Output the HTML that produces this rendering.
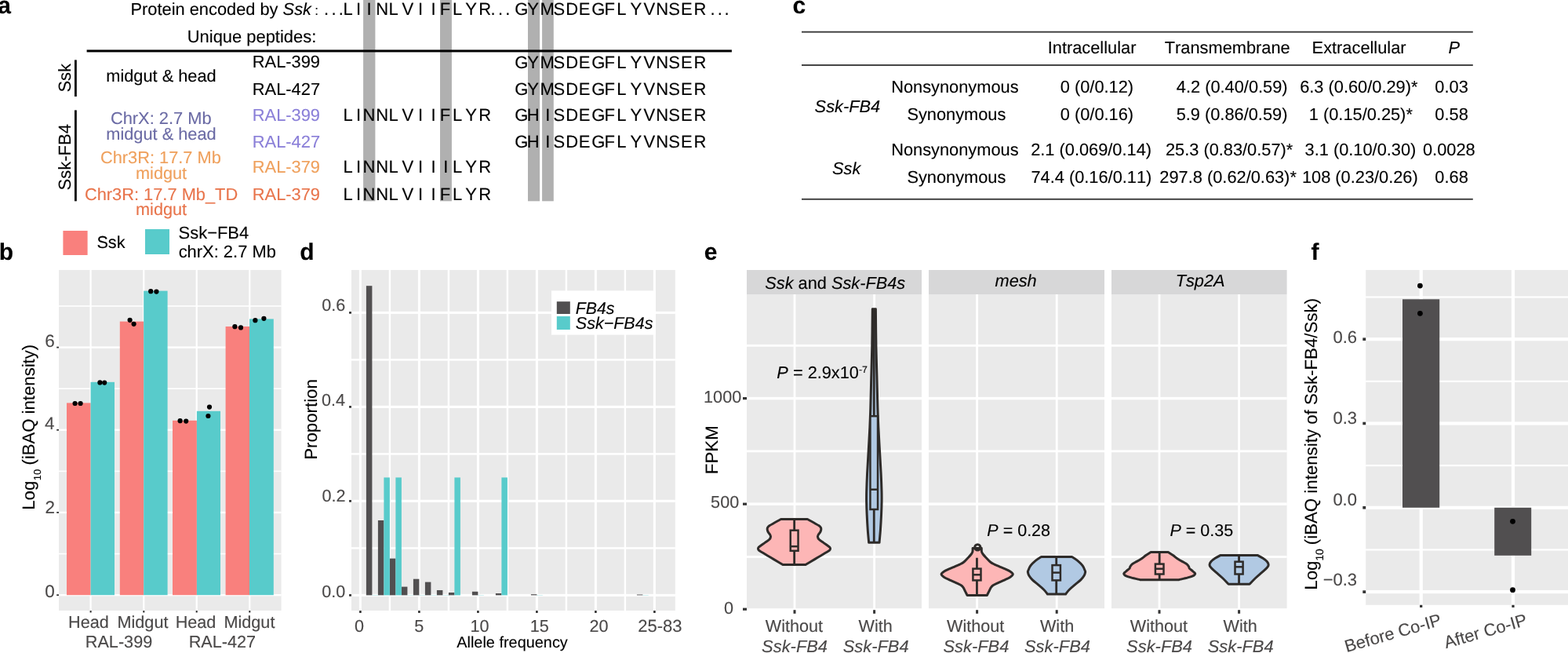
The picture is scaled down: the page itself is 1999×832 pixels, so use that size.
<!DOCTYPE html>
<html lang="en"><head><meta charset="utf-8"><title>Figure</title>
<style>
html,body{margin:0;padding:0;background:#fff;}
body{width:1999px;height:832px;overflow:hidden;}
svg{display:block;}
text{font-family:"Liberation Sans",Arial,Helvetica,sans-serif;font-kerning:none;text-rendering:geometricPrecision;white-space:pre;stroke-width:.12px;stroke-linejoin:round;}
</style></head><body>
<svg width="1999" height="832" viewBox="0 0 1999 832" role="img" aria-label="Figure panels a to f">
<rect x="0" y="0" width="1999" height="832" fill="#fff"/>
<rect x="463.1" y="0" width="15.3" height="256.3" fill="#B0B0B0"/>
<rect x="561" y="0" width="14.9" height="256.3" fill="#B0B0B0"/>
<rect x="673" y="0" width="15.1" height="256.3" fill="#B0B0B0"/>
<rect x="691.1" y="0" width="14.7" height="256.3" fill="#B0B0B0"/>
<text x="-2.78" y="16.8" font-size="30" fill="#000" stroke="#000" font-weight="bold">a</text>
<text x="166.56" y="19.3" font-size="21.82" fill="#000" stroke="#000"><tspan>Protein encoded by </tspan><tspan font-style="italic">Ssk</tspan></text>
<text x="401.35" y="19.3" font-size="17" fill="#000" stroke="#000">:</text>
<text x="412.99 422.39 431.74" y="19.3" font-size="22" fill="#000" stroke="#000">...</text>
<text x="625.49 634.89 644.29" y="19.3" font-size="22" fill="#000" stroke="#000">...</text>
<text x="905.39 914.69 923.59" y="19.3" font-size="22" fill="#000" stroke="#000">...</text>
<text x="437.6 453.97 467.57 479.2 495.45 512.4 532.97 549.47 560.7 576.95 593.27 610.2" y="19.3" font-size="22" fill="#000" stroke="#000">LIINLVIIFLYR</text>
<text x="656.19 672.22 688.5 705.5 721.3 737.8 754.29 770.4 786.2 803.52 820.4 836.2 852.3 868 884.6" y="19.3" font-size="22" fill="#000" stroke="#000">GYMSDEGFLYVNSER</text>
<text x="238.81" y="53.75" font-size="21.91" fill="#000" stroke="#000">Unique peptides:</text>
<rect x="110.6" y="63.45" width="822.3" height="3" fill="#000"/>
<text transform="translate(90 116.6) rotate(-90)" x="-1" y="0" font-size="22" fill="#000" stroke="#000">Ssk</text>
<rect x="95" y="76.4" width="2.8" height="46.6" fill="#000"/>
<text x="135.25" y="103.9" font-size="21.77" fill="#000" stroke="#000">midgut &amp; head</text>
<text x="321.81" y="86.3" font-size="21.85" fill="#000" stroke="#000">RAL-399</text>
<text x="321.81" y="121" font-size="21.86" fill="#000" stroke="#000">RAL-427</text>
<text x="656.19 672.22 688.5 705.5 721.3 737.8 754.29 770.4 786.2 803.52 820.4 836.2 852.3 868 884.6" y="86.7" font-size="22" fill="#000" stroke="#000">GYMSDEGFLYVNSER</text>
<text x="656.19 672.22 688.5 705.5 721.3 737.8 754.29 770.4 786.2 803.52 820.4 836.2 852.3 868 884.6" y="121" font-size="22" fill="#000" stroke="#000">GYMSDEGFLYVNSER</text>
<text transform="translate(90 241.4) rotate(-90)" x="-1" y="0" font-size="22" fill="#000" stroke="#000">Ssk-FB4</text>
<rect x="95" y="140.4" width="2.8" height="115.9" fill="#000"/>
<text x="140.89" y="158" font-size="21.86" fill="#6B6BA5" stroke="#6B6BA5">ChrX: 2.7 Mb</text>
<text x="135.25" y="177.5" font-size="21.77" fill="#6B6BA5" stroke="#6B6BA5">midgut &amp; head</text>
<text x="321.81" y="153.7" font-size="21.85" fill="#8A7FD8" stroke="#8A7FD8">RAL-399</text>
<text x="321.81" y="187.7" font-size="21.86" fill="#8A7FD8" stroke="#8A7FD8">RAL-427</text>
<text x="127.89" y="207.7" font-size="21.82" fill="#EFA05C" stroke="#EFA05C">Chr3R: 17.7 Mb</text>
<text x="173.06" y="227.8" font-size="21.69" fill="#EFA05C" stroke="#EFA05C">midgut</text>
<text x="321.81" y="219.8" font-size="21.85" fill="#EFA05C" stroke="#EFA05C">RAL-379</text>
<text x="107.89" y="254.6" font-size="21.84" fill="#E8744B" stroke="#E8744B">Chr3R: 17.7 Mb_TD</text>
<text x="173.06" y="274.3" font-size="21.69" fill="#E8744B" stroke="#E8744B">midgut</text>
<text x="321.81" y="254.6" font-size="21.85" fill="#E8744B" stroke="#E8744B">RAL-379</text>
<text x="437.6 453.97 462.4 479.2 495.45 512.4 532.97 549.47 560.7 576.95 593.27 610.2" y="153.7" font-size="22" fill="#000" stroke="#000">LINNLVIIFLYR</text>
<text x="437.6 453.97 462.4 479.2 495.45 512.4 532.97 549.47 565.27 576.95 593.27 610.2" y="219.8" font-size="22" fill="#000" stroke="#000">LINNLVIIILYR</text>
<text x="437.6 453.97 462.4 479.2 495.45 512.4 532.97 549.47 560.7 576.95 593.27 610.2" y="254.6" font-size="22" fill="#000" stroke="#000">LINNLVIIFLYR</text>
<text x="656.19 671.8 695.27 705.5 721.3 737.8 754.29 770.4 786.2 803.52 820.4 836.2 852.3 868 884.6" y="153.7" font-size="22" fill="#000" stroke="#000">GHISDEGFLYVNSER</text>
<text x="656.19 671.8 695.27 705.5 721.3 737.8 754.29 770.4 786.2 803.52 820.4 836.2 852.3 868 884.6" y="187.7" font-size="22" fill="#000" stroke="#000">GHISDEGFLYVNSER</text>
<text x="1010.43" y="16.6" font-size="30" fill="#000" stroke="#000" font-weight="bold">c</text>
<rect x="1022" y="39.75" width="855.8" height="1.9" fill="#3C3C3C"/>
<rect x="1022" y="82.05" width="855.8" height="1.9" fill="#3C3C3C"/>
<rect x="1022" y="252.85" width="855.8" height="1.9" fill="#3C3C3C"/>
<text x="1335.73" y="67.9" font-size="21.8" fill="#000" stroke="#000">Intracellular</text>
<text x="1484.78" y="67.9" font-size="21.8" fill="#000" stroke="#000">Transmembrane</text>
<text x="1672.62" y="67.9" font-size="21.8" fill="#000" stroke="#000">Extracellular</text>
<text x="1846.46" y="67.9" font-size="21.8" fill="#000" stroke="#000" font-style="italic">P</text>
<text x="1136.21" y="118" font-size="21.8" fill="#000" stroke="#000">Nonsynonymous</text>
<text x="1351.8" y="118" font-size="21.8" fill="#000" stroke="#000">0 (0/0.12)</text>
<text x="1499.83" y="118" font-size="21.8" fill="#000" stroke="#000">4.2 (0.40/0.59)</text>
<text x="1657.18" y="118" font-size="21.8" fill="#000" stroke="#000">6.3 (0.60/0.29)*</text>
<text x="1829.34" y="118" font-size="21.8" fill="#000" stroke="#000">0.03</text>
<text x="1156.39" y="152.5" font-size="21.8" fill="#000" stroke="#000">Synonymous</text>
<text x="1351.8" y="152.5" font-size="21.8" fill="#000" stroke="#000">0 (0/0.16)</text>
<text x="1499.64" y="152.5" font-size="21.8" fill="#000" stroke="#000">5.9 (0.86/0.59)</text>
<text x="1668.79" y="152.5" font-size="21.8" fill="#000" stroke="#000">1 (0.15/0.25)*</text>
<text x="1829.33" y="152.5" font-size="21.8" fill="#000" stroke="#000">0.58</text>
<text x="1136.21" y="197.6" font-size="21.8" fill="#000" stroke="#000">Nonsynonymous</text>
<text x="1314.17" y="197.6" font-size="21.8" fill="#000" stroke="#000">2.1 (0.069/0.14)</text>
<text x="1485.92" y="197.6" font-size="21.8" fill="#000" stroke="#000">25.3 (0.83/0.57)*</text>
<text x="1663.56" y="197.6" font-size="21.8" fill="#000" stroke="#000">3.1 (0.10/0.30)</text>
<text x="1814.01" y="197.6" font-size="21.8" fill="#000" stroke="#000">0.0028</text>
<text x="1156.39" y="233.1" font-size="21.8" fill="#000" stroke="#000">Synonymous</text>
<text x="1314.46" y="233.1" font-size="21.8" fill="#000" stroke="#000">74.4 (0.16/0.11)</text>
<text x="1478.36" y="233.1" font-size="21.8" fill="#000" stroke="#000">297.8 (0.62/0.63)*</text>
<text x="1659.91" y="233.1" font-size="21.8" fill="#000" stroke="#000">108 (0.23/0.26)</text>
<text x="1829.33" y="233.1" font-size="21.8" fill="#000" stroke="#000">0.68</text>
<text x="1038.61" y="142.6" font-size="21.8" fill="#000" stroke="#000" font-style="italic">Ssk-FB4</text>
<text x="1061.06" y="222.2" font-size="21.8" fill="#000" stroke="#000" font-style="italic">Ssk</text>
<rect x="75" y="344" width="283.6" height="434" fill="#EAEAEA"/>
<rect x="75" y="704.8" width="283.6" height="1.6" fill="#fff"/>
<rect x="75" y="599.6" width="283.6" height="1.6" fill="#fff"/>
<rect x="75" y="494.4" width="283.6" height="1.6" fill="#fff"/>
<rect x="75" y="389.2" width="283.6" height="1.6" fill="#fff"/>
<rect x="75" y="757" width="283.6" height="2.4" fill="#fff"/>
<rect x="75" y="651.8" width="283.6" height="2.4" fill="#fff"/>
<rect x="75" y="546.6" width="283.6" height="2.4" fill="#fff"/>
<rect x="75" y="441.4" width="283.6" height="2.4" fill="#fff"/>
<rect x="114.5" y="344" width="2.2" height="434" fill="#fff"/>
<rect x="182.2" y="344" width="2.2" height="434" fill="#fff"/>
<rect x="249.6" y="344" width="2.2" height="434" fill="#fff"/>
<rect x="317.2" y="344" width="2.2" height="434" fill="#fff"/>
<rect x="85" y="513.4" width="30.6" height="244.8" fill="#F9807D"/>
<rect x="115.6" y="486.8" width="30.4" height="271.4" fill="#58CBCB"/>
<rect x="152.8" y="409.6" width="30.4" height="348.6" fill="#F9807D"/>
<rect x="183.2" y="370.6" width="30.4" height="387.6" fill="#58CBCB"/>
<rect x="220" y="535.8" width="30.9" height="222.4" fill="#F9807D"/>
<rect x="250.9" y="523.8" width="30.1" height="234.4" fill="#58CBCB"/>
<rect x="287.6" y="416" width="30.4" height="342.2" fill="#F9807D"/>
<rect x="318" y="406.4" width="30.8" height="351.8" fill="#58CBCB"/>
<circle cx="95.6" cy="514" r="3.1" fill="#000"/>
<circle cx="102.6" cy="514" r="3.1" fill="#000"/>
<circle cx="127.4" cy="487.4" r="3.1" fill="#000"/>
<circle cx="133.2" cy="487.6" r="3.1" fill="#000"/>
<circle cx="165.6" cy="407.8" r="3.1" fill="#000"/>
<circle cx="170.6" cy="412.8" r="3.1" fill="#000"/>
<circle cx="192.2" cy="371.2" r="3.1" fill="#000"/>
<circle cx="199.4" cy="371.6" r="3.1" fill="#000"/>
<circle cx="229.6" cy="536.2" r="3.1" fill="#000"/>
<circle cx="237.2" cy="536.6" r="3.1" fill="#000"/>
<circle cx="267" cy="518.6" r="3.1" fill="#000"/>
<circle cx="265.4" cy="530" r="3.1" fill="#000"/>
<circle cx="299.4" cy="416.2" r="3.1" fill="#000"/>
<circle cx="307" cy="417.4" r="3.1" fill="#000"/>
<circle cx="325.4" cy="408.2" r="3.1" fill="#000"/>
<circle cx="336.4" cy="405.8" r="3.1" fill="#000"/>
<rect x="72.2" y="757.3" width="2.8" height="1.8" fill="#333"/>
<rect x="72.2" y="652.1" width="2.8" height="1.8" fill="#333"/>
<rect x="72.2" y="546.9" width="2.8" height="1.8" fill="#333"/>
<rect x="72.2" y="441.7" width="2.8" height="1.8" fill="#333"/>
<rect x="114.6" y="778" width="2" height="2.5" fill="#333"/>
<rect x="182.3" y="778" width="2" height="2.5" fill="#333"/>
<rect x="249.7" y="778" width="2" height="2.5" fill="#333"/>
<rect x="317.3" y="778" width="2" height="2.5" fill="#333"/>
<text x="57.17" y="761.1" font-size="22.5" fill="#4A4848" stroke="#4A4848">0</text>
<text x="57.42" y="653.7" font-size="22.5" fill="#4A4848" stroke="#4A4848">2</text>
<text x="56.95" y="546.7" font-size="22.5" fill="#4A4848" stroke="#4A4848">4</text>
<text x="57.28" y="442.1" font-size="22.5" fill="#4A4848" stroke="#4A4848">6</text>
<text x="87.03" y="800.2" font-size="21.65" fill="#4A4848" stroke="#4A4848">Head</text>
<text x="149.5" y="800.2" font-size="21.65" fill="#4A4848" stroke="#4A4848">Midgut</text>
<text x="223.68" y="800.2" font-size="21.65" fill="#4A4848" stroke="#4A4848">Head</text>
<text x="285.45" y="800.2" font-size="21.65" fill="#4A4848" stroke="#4A4848">Midgut</text>
<text x="108.8" y="824.5" font-size="21.65" fill="#4A4848" stroke="#4A4848">RAL-399</text>
<text x="240.68" y="824.5" font-size="21.65" fill="#4A4848" stroke="#4A4848">RAL-427</text>
<text transform="translate(43.9 647.9) rotate(-90)" x="-1.82" y="0" font-size="22.15" fill="#000" stroke="#000"><tspan>Log</tspan><tspan font-size="12.85" dy="7.6" dx="0.6">10</tspan><tspan dy="-7.6" dx="-0.85"> (iBAQ intensity)</tspan></text>
<text x="-1.18" y="330.8" font-size="30" fill="#000" stroke="#000" font-weight="bold">b</text>
<rect x="80.4" y="294" width="31.2" height="31" fill="#F9807D"/>
<rect x="185" y="292" width="31" height="32" fill="#58CBCB"/>
<text x="123.42" y="316.4" font-size="21.69" fill="#000" stroke="#000">Ssk</text>
<text x="227.6" y="304" font-size="21.94" fill="#000" stroke="#000">Ssk−FB4</text>
<text x="227.67" y="328" font-size="21.92" fill="#000" stroke="#000">chrX: 2.7 Mb</text>
<rect x="448" y="344" width="412.8" height="434" fill="#EAEAEA"/>
<rect x="448" y="697.2" width="412.8" height="2.4" fill="#fff"/>
<rect x="448" y="577.2" width="412.8" height="2.4" fill="#fff"/>
<rect x="448" y="457.2" width="412.8" height="2.4" fill="#fff"/>
<rect x="495.7" y="344" width="2.4" height="434" fill="#fff"/>
<rect x="570.7" y="344" width="2.4" height="434" fill="#fff"/>
<rect x="645.7" y="344" width="2.4" height="434" fill="#fff"/>
<rect x="720.7" y="344" width="2.4" height="434" fill="#fff"/>
<rect x="795.7" y="344" width="2.4" height="434" fill="#fff"/>
<rect x="448" y="756.85" width="412.8" height="3.1" fill="#fff"/>
<rect x="448" y="636.85" width="412.8" height="3.1" fill="#fff"/>
<rect x="448" y="516.85" width="412.8" height="3.1" fill="#fff"/>
<rect x="448" y="396.85" width="412.8" height="3.1" fill="#fff"/>
<rect x="457.9" y="344" width="3" height="434" fill="#fff"/>
<rect x="532.9" y="344" width="3" height="434" fill="#fff"/>
<rect x="607.9" y="344" width="3" height="434" fill="#fff"/>
<rect x="682.9" y="344" width="3" height="434" fill="#fff"/>
<rect x="757.9" y="344" width="3" height="434" fill="#fff"/>
<rect x="832.9" y="344" width="3" height="434" fill="#fff"/>
<rect x="466.9" y="364.2" width="7.5" height="394.2" fill="#514F50"/>
<rect x="481.9" y="663" width="7.5" height="95.4" fill="#514F50"/>
<rect x="496.9" y="711.6" width="7.5" height="46.8" fill="#514F50"/>
<rect x="511.9" y="747.6" width="7.5" height="10.8" fill="#514F50"/>
<rect x="526.9" y="737.7" width="7.5" height="20.7" fill="#514F50"/>
<rect x="541.9" y="741.6" width="7.5" height="16.8" fill="#514F50"/>
<rect x="556.9" y="751.98" width="7.5" height="6.42" fill="#514F50"/>
<rect x="571.9" y="754.98" width="7.5" height="3.42" fill="#514F50"/>
<rect x="601.9" y="753.78" width="7.5" height="4.62" fill="#514F50"/>
<rect x="631.9" y="756" width="7.5" height="2.4" fill="#514F50"/>
<rect x="676.9" y="757.2" width="7.5" height="1.2" fill="#514F50"/>
<rect x="811.9" y="757.5" width="7.5" height="0.9" fill="#514F50"/>
<rect x="489.4" y="608.4" width="7.5" height="150" fill="#58CBCB"/>
<rect x="504.4" y="608.4" width="7.5" height="150" fill="#58CBCB"/>
<rect x="579.4" y="608.4" width="7.5" height="150" fill="#58CBCB"/>
<rect x="639.4" y="608.4" width="7.5" height="150" fill="#58CBCB"/>
<rect x="474.4" y="758.1" width="7.5" height="0.5" fill="#58CBCB" opacity="0.55"/>
<rect x="519.4" y="758.1" width="7.5" height="0.5" fill="#58CBCB" opacity="0.55"/>
<rect x="534.4" y="758.1" width="7.5" height="0.5" fill="#58CBCB" opacity="0.55"/>
<rect x="549.4" y="758.1" width="7.5" height="0.5" fill="#58CBCB" opacity="0.55"/>
<rect x="564.4" y="758.1" width="7.5" height="0.5" fill="#58CBCB" opacity="0.55"/>
<rect x="609.4" y="758.1" width="7.5" height="0.5" fill="#58CBCB" opacity="0.55"/>
<rect x="684.4" y="758.1" width="7.5" height="0.5" fill="#58CBCB" opacity="0.55"/>
<rect x="819.4" y="758.1" width="7.5" height="0.5" fill="#58CBCB" opacity="0.55"/>
<rect x="703" y="370.4" width="133" height="56.2" fill="#fff"/>
<rect x="709.8" y="384.2" width="17" height="15.8" fill="#514F50"/>
<rect x="709.8" y="403" width="17" height="17" fill="#58CBCB"/>
<text x="733.75" y="400" font-size="21.29" fill="#000" stroke="#000" font-style="italic">FB4s</text>
<text x="733.79" y="419.4" font-size="21.52" fill="#000" stroke="#000" font-style="italic">Ssk−FB4s</text>
<text x="410.25" y="396" font-size="21.65" fill="#4A4848" stroke="#4A4848">0.6</text>
<rect x="445" y="397.1" width="3" height="2.6" fill="#333"/>
<text x="409.94" y="517.3" font-size="21.65" fill="#4A4848" stroke="#4A4848">0.4</text>
<rect x="445" y="517.1" width="3" height="2.6" fill="#333"/>
<text x="410.39" y="639.1" font-size="21.65" fill="#4A4848" stroke="#4A4848">0.2</text>
<rect x="445" y="637.1" width="3" height="2.6" fill="#333"/>
<text x="410.15" y="761" font-size="21.65" fill="#4A4848" stroke="#4A4848">0.0</text>
<rect x="445" y="757.1" width="3" height="2.6" fill="#333"/>
<rect x="458.1" y="778" width="2.6" height="3" fill="#333"/>
<text x="451.98" y="805.4" font-size="21.65" fill="#4A4848" stroke="#4A4848">0</text>
<rect x="533.1" y="778" width="2.6" height="3" fill="#333"/>
<text x="528.2" y="805.4" font-size="21.65" fill="#4A4848" stroke="#4A4848">5</text>
<rect x="608.1" y="778" width="2.6" height="3" fill="#333"/>
<text x="599.46" y="805.4" font-size="21.65" fill="#4A4848" stroke="#4A4848">10</text>
<rect x="683.1" y="778" width="2.6" height="3" fill="#333"/>
<text x="675.79" y="805.4" font-size="21.65" fill="#4A4848" stroke="#4A4848">15</text>
<rect x="758.1" y="778" width="2.6" height="3" fill="#333"/>
<text x="751.54" y="805.4" font-size="21.65" fill="#4A4848" stroke="#4A4848">20</text>
<rect x="833.1" y="778" width="2.6" height="3" fill="#333"/>
<text x="813.3" y="805.4" font-size="22" fill="#4A4848" stroke="#4A4848">25-83</text>
<text x="582.26" y="824.7" font-size="19.9" fill="#000" stroke="#000">Allele frequency</text>
<text transform="translate(404 584) rotate(-90)" x="-1.83" y="0" font-size="22.25" fill="#000" stroke="#000">Proportion</text>
<text x="382.37" y="330.8" font-size="30" fill="#000" stroke="#000" font-weight="bold">d</text>
<rect x="952" y="344" width="223" height="31" fill="#D7D7D8"/>
<rect x="952" y="375" width="223" height="400.2" fill="#EAEAEA"/>
<rect x="952" y="708.1" width="223" height="2.8" fill="#fff"/>
<rect x="952" y="573.5" width="223" height="2.8" fill="#fff"/>
<rect x="952" y="438.9" width="223" height="2.8" fill="#fff"/>
<rect x="952" y="640.5" width="223" height="3.4" fill="#fff"/>
<rect x="952" y="505.9" width="223" height="3.4" fill="#fff"/>
<rect x="1011.6" y="375" width="2.8" height="400.2" fill="#fff"/>
<rect x="1011.5" y="777.2" width="3" height="4.6" fill="#333"/>
<text x="975.73" y="804.7" font-size="21.65" fill="#4A4848" stroke="#4A4848">Without</text>
<text x="971.12" y="831.2" font-size="21.9" fill="#4A4848" stroke="#4A4848" font-style="italic">Ssk-FB4</text>
<rect x="1113.2" y="375" width="2.8" height="400.2" fill="#fff"/>
<rect x="1113.1" y="777.2" width="3" height="4.6" fill="#333"/>
<text x="1094.61" y="804.7" font-size="21.65" fill="#4A4848" stroke="#4A4848">With</text>
<text x="1074.72" y="831.2" font-size="21.9" fill="#4A4848" stroke="#4A4848" font-style="italic">Ssk-FB4</text>
<rect x="1184" y="344" width="224" height="31" fill="#D7D7D8"/>
<rect x="1184" y="375" width="224" height="400.2" fill="#EAEAEA"/>
<rect x="1184" y="708.1" width="224" height="2.8" fill="#fff"/>
<rect x="1184" y="573.5" width="224" height="2.8" fill="#fff"/>
<rect x="1184" y="438.9" width="224" height="2.8" fill="#fff"/>
<rect x="1184" y="640.5" width="224" height="3.4" fill="#fff"/>
<rect x="1184" y="505.9" width="224" height="3.4" fill="#fff"/>
<rect x="1244.2" y="375" width="2.8" height="400.2" fill="#fff"/>
<rect x="1244.1" y="777.2" width="3" height="4.6" fill="#333"/>
<text x="1207.03" y="804.7" font-size="21.65" fill="#4A4848" stroke="#4A4848">Without</text>
<text x="1202.42" y="831.2" font-size="21.9" fill="#4A4848" stroke="#4A4848" font-style="italic">Ssk-FB4</text>
<rect x="1345.8" y="375" width="2.8" height="400.2" fill="#fff"/>
<rect x="1345.7" y="777.2" width="3" height="4.6" fill="#333"/>
<text x="1325.91" y="804.7" font-size="21.65" fill="#4A4848" stroke="#4A4848">With</text>
<text x="1306.02" y="831.2" font-size="21.9" fill="#4A4848" stroke="#4A4848" font-style="italic">Ssk-FB4</text>
<rect x="1417" y="344" width="223.6" height="31" fill="#D7D7D8"/>
<rect x="1417" y="375" width="223.6" height="400.2" fill="#EAEAEA"/>
<rect x="1417" y="708.1" width="223.6" height="2.8" fill="#fff"/>
<rect x="1417" y="573.5" width="223.6" height="2.8" fill="#fff"/>
<rect x="1417" y="438.9" width="223.6" height="2.8" fill="#fff"/>
<rect x="1417" y="640.5" width="223.6" height="3.4" fill="#fff"/>
<rect x="1417" y="505.9" width="223.6" height="3.4" fill="#fff"/>
<rect x="1476.6" y="375" width="2.8" height="400.2" fill="#fff"/>
<rect x="1476.5" y="777.2" width="3" height="4.6" fill="#333"/>
<text x="1440.73" y="804.7" font-size="21.65" fill="#4A4848" stroke="#4A4848">Without</text>
<text x="1436.12" y="831.2" font-size="21.9" fill="#4A4848" stroke="#4A4848" font-style="italic">Ssk-FB4</text>
<rect x="1578.2" y="375" width="2.8" height="400.2" fill="#fff"/>
<rect x="1578.1" y="777.2" width="3" height="4.6" fill="#333"/>
<text x="1559.61" y="804.7" font-size="21.65" fill="#4A4848" stroke="#4A4848">With</text>
<text x="1539.72" y="831.2" font-size="21.9" fill="#4A4848" stroke="#4A4848" font-style="italic">Ssk-FB4</text>
<text x="975.27" y="367.6" font-size="21.75" fill="#000" stroke="#000"><tspan font-style="italic">Ssk</tspan><tspan> and </tspan><tspan font-style="italic">Ssk-FB4s</tspan></text>
<text x="1268.53" y="364.6" font-size="21.75" fill="#000" stroke="#000" font-style="italic">mesh</text>
<text x="1498.68" y="364.6" font-size="21.75" fill="#000" stroke="#000" font-style="italic">Tsp2A</text>
<text x="897.08" y="513" font-size="21.65" fill="#4A4848" stroke="#4A4848">1000</text>
<rect x="947" y="506" width="5" height="3.2" fill="#333"/>
<text x="906.12" y="647.4" font-size="21.65" fill="#4A4848" stroke="#4A4848">500</text>
<rect x="947" y="640.6" width="5" height="3.2" fill="#333"/>
<text x="923.11" y="781.8" font-size="21.65" fill="#4A4848" stroke="#4A4848">0</text>
<rect x="947" y="774.6" width="5" height="3.2" fill="#333"/>
<text transform="translate(915 602.4) rotate(-90)" x="-1.83" y="0" font-size="22.3" fill="#000" stroke="#000">FPKM</text>
<text x="897.63" y="330.8" font-size="30" fill="#000" stroke="#000" font-weight="bold">e</text>
<path d="M1029.3 661.5C1030.53 662.17 1034.28 664.15 1036.7 665.5C1039.12 666.85 1042.2 668.52 1043.8 669.6C1045.4 670.68 1045.8 671.17 1046.3 672C1046.8 672.83 1046.9 673.6 1046.8 674.6C1046.7 675.6 1046.28 676.88 1045.7 678C1045.12 679.12 1043.83 680.3 1043.3 681.3C1042.77 682.3 1042.37 683 1042.5 684C1042.63 685 1042.88 686.07 1044.1 687.3C1045.32 688.53 1047.9 690.03 1049.8 691.4C1051.7 692.77 1054.15 694.5 1055.5 695.5C1056.85 696.5 1057.4 696.78 1057.9 697.4C1058.4 698.02 1058.6 698.53 1058.5 699.2C1058.4 699.87 1058.3 700.55 1057.3 701.4C1056.3 702.25 1054.97 702.82 1052.5 704.3C1050.03 705.78 1045.83 708.32 1042.5 710.3C1039.17 712.28 1035.08 714.67 1032.5 716.2C1029.92 717.73 1027.92 718.95 1027 719.5L998 719.5C997.08 718.95 995.08 717.73 992.5 716.2C989.92 714.67 985.83 712.28 982.5 710.3C979.17 708.32 974.97 705.78 972.5 704.3C970.03 702.82 968.7 702.25 967.7 701.4C966.7 700.55 966.6 699.87 966.5 699.2C966.4 698.53 966.6 698.02 967.1 697.4C967.6 696.78 968.15 696.5 969.5 695.5C970.85 694.5 973.3 692.77 975.2 691.4C977.1 690.03 979.68 688.53 980.9 687.3C982.12 686.07 982.37 685 982.5 684C982.63 683 982.23 682.3 981.7 681.3C981.17 680.3 979.88 679.12 979.3 678C978.72 676.88 978.3 675.6 978.2 674.6C978.1 673.6 978.2 672.83 978.7 672C979.2 671.17 979.6 670.68 981.2 669.6C982.8 668.52 985.88 666.85 988.3 665.5C990.72 664.15 994.47 662.17 995.7 661.5Z" fill="#FDB6B6" stroke="#2E2B29" stroke-width="3" stroke-linejoin="round"/>
<path d="M1012.65 661.5V675.7M1012.65 701.8V719.5" stroke="#2E2B29" stroke-width="2.8" fill="none"/>
<rect x="1007.75" y="675.7" width="9.8" height="26.1" fill="#FDB6B6" stroke="#2E2B29" stroke-width="2.5"/>
<path d="M1007.75 696.2H1017.55" stroke="#2E2B29" stroke-width="2.5" fill="none"/>
<path d="M1116.4 393.8C1116.49 401.95 1116.69 428.17 1116.95 442.7C1117.21 457.23 1117.62 468.18 1117.95 481C1118.27 493.82 1118.58 509 1118.9 519.6C1119.22 530.2 1119.42 535.43 1119.85 544.6C1120.28 553.77 1120.95 564.78 1121.5 574.6C1122.05 584.42 1122.73 594.85 1123.15 603.5C1123.57 612.15 1123.85 620.42 1124 626.5C1124.15 632.58 1124.12 635.18 1124.05 640C1123.97 644.82 1123.82 649.57 1123.55 655.4C1123.28 661.23 1122.87 669.02 1122.45 675C1122.03 680.98 1121.28 688.58 1121.05 691.3L1107.65 691.3C1107.42 688.58 1106.67 680.98 1106.25 675C1105.83 669.02 1105.42 661.23 1105.15 655.4C1104.88 649.57 1104.72 644.82 1104.65 640C1104.57 635.18 1104.55 632.58 1104.7 626.5C1104.85 620.42 1105.13 612.15 1105.55 603.5C1105.97 594.85 1106.65 584.42 1107.2 574.6C1107.75 564.78 1108.42 553.77 1108.85 544.6C1109.28 535.43 1109.48 530.2 1109.8 519.6C1110.12 509 1110.42 493.82 1110.75 481C1111.08 468.18 1111.49 457.23 1111.75 442.7C1112.01 428.17 1112.21 401.95 1112.3 393.8Z" fill="#B1C9E3" stroke="#2E2B29" stroke-width="3" stroke-linejoin="round"/>
<path d="M1114.25 393.8V530.2M1114.25 649V691.3" stroke="#2E2B29" stroke-width="2.8" fill="none"/>
<rect x="1109.45" y="530.2" width="9.6" height="118.8" fill="#B1C9E3" stroke="#2E2B29" stroke-width="2.5"/>
<path d="M1109.45 623.7H1119.05" stroke="#2E2B29" stroke-width="2.5" fill="none"/>
<path d="M1251.3 698.45C1251.33 699.19 1251.2 701.64 1251.5 702.9C1251.8 704.16 1252.13 704.7 1253.1 706C1254.07 707.3 1255.73 709.03 1257.3 710.7C1258.87 712.37 1260.75 714.6 1262.5 716C1264.25 717.4 1265.87 718.13 1267.8 719.1C1269.73 720.07 1271.83 720.83 1274.1 721.8C1276.37 722.77 1279.13 723.85 1281.4 724.9C1283.67 725.95 1286.05 726.97 1287.7 728.1C1289.35 729.23 1291.3 730.48 1291.3 731.7C1291.3 732.92 1289.52 734.17 1287.7 735.4C1285.88 736.63 1283.02 737.87 1280.4 739.1C1277.78 740.33 1274.45 741.67 1272 742.8C1269.55 743.93 1267.2 744.85 1265.7 745.9C1264.2 746.95 1263.8 747.87 1263 749.1C1262.2 750.33 1261.68 751.73 1260.9 753.3C1260.12 754.87 1258.73 757.63 1258.3 758.5L1233.1 758.5C1232.67 757.63 1231.28 754.87 1230.5 753.3C1229.72 751.73 1229.2 750.33 1228.4 749.1C1227.6 747.87 1227.2 746.95 1225.7 745.9C1224.2 744.85 1221.85 743.93 1219.4 742.8C1216.95 741.67 1213.62 740.33 1211 739.1C1208.38 737.87 1205.52 736.63 1203.7 735.4C1201.88 734.17 1200.1 732.92 1200.1 731.7C1200.1 730.48 1202.05 729.23 1203.7 728.1C1205.35 726.97 1207.73 725.95 1210 724.9C1212.27 723.85 1215.03 722.77 1217.3 721.8C1219.57 720.83 1221.67 720.07 1223.6 719.1C1225.53 718.13 1227.15 717.4 1228.9 716C1230.65 714.6 1232.53 712.37 1234.1 710.7C1235.67 709.03 1237.33 707.3 1238.3 706C1239.27 704.7 1239.6 704.16 1239.9 702.9C1240.2 701.64 1240.07 699.19 1240.1 698.45Z" fill="#FDB6B6" stroke="#2E2B29" stroke-width="3" stroke-linejoin="round"/>
<path d="M1245.45 710.7V724.6M1245.45 739.4V758.5" stroke="#2E2B29" stroke-width="2.8" fill="none"/>
<rect x="1240.4" y="724.6" width="10.1" height="14.8" fill="#FDB6B6" stroke="#2E2B29" stroke-width="2.5"/>
<path d="M1240.4 732.3H1250.5" stroke="#2E2B29" stroke-width="2.5" fill="none"/>
<circle cx="1246.3" cy="697.3" r="3.6" fill="none" stroke="#2E2B29" stroke-width="3.1"/>
<path d="M1366.4 709.4C1367.63 710.23 1371.52 712.52 1373.8 714.4C1376.08 716.28 1378.53 718.6 1380.1 720.7C1381.67 722.8 1382.62 725.6 1383.2 727C1383.78 728.4 1383.77 728.05 1383.6 729.1C1383.43 730.15 1383.13 731.72 1382.2 733.3C1381.27 734.88 1379.93 736.67 1378 738.6C1376.07 740.53 1373.05 742.8 1370.6 744.9C1368.15 747 1365.3 749.19 1363.3 751.2C1361.3 753.21 1359.38 755.99 1358.6 756.95L1335.4 756.95C1334.62 755.99 1332.7 753.21 1330.7 751.2C1328.7 749.19 1325.85 747 1323.4 744.9C1320.95 742.8 1317.93 740.53 1316 738.6C1314.07 736.67 1312.73 734.88 1311.8 733.3C1310.87 731.72 1310.57 730.15 1310.4 729.1C1310.23 728.05 1310.22 728.4 1310.8 727C1311.38 725.6 1312.33 722.8 1313.9 720.7C1315.47 718.6 1317.92 716.28 1320.2 714.4C1322.48 712.52 1326.37 710.23 1327.6 709.4Z" fill="#B1C9E3" stroke="#2E2B29" stroke-width="3" stroke-linejoin="round"/>
<path d="M1346.7 709.4V720.1M1346.7 739.4V756.95" stroke="#2E2B29" stroke-width="2.8" fill="none"/>
<rect x="1341.5" y="720.1" width="10.4" height="19.3" fill="#B1C9E3" stroke="#2E2B29" stroke-width="2.5"/>
<path d="M1341.5 729.6H1351.9" stroke="#2E2B29" stroke-width="2.5" fill="none"/>
<path d="M1489.2 703.4C1490.25 704.1 1493.4 706.12 1495.5 707.6C1497.6 709.08 1499.52 710.82 1501.8 712.3C1504.08 713.78 1507.27 715.37 1509.2 716.5C1511.13 717.63 1512.35 718.22 1513.4 719.1C1514.45 719.98 1514.98 720.92 1515.5 721.8C1516.02 722.68 1515.8 723.53 1516.5 724.4C1517.2 725.27 1518.65 726.13 1519.7 727C1520.75 727.87 1522.13 728.9 1522.8 729.6C1523.47 730.3 1523.87 730.58 1523.7 731.2C1523.53 731.82 1523.35 732.52 1521.8 733.3C1520.25 734.08 1517.55 735 1514.4 735.9C1511.25 736.8 1504.82 738.23 1502.9 738.7L1453.5 738.7C1451.58 738.23 1445.15 736.8 1442 735.9C1438.85 735 1436.15 734.08 1434.6 733.3C1433.05 732.52 1432.87 731.82 1432.7 731.2C1432.53 730.58 1432.93 730.3 1433.6 729.6C1434.27 728.9 1435.65 727.87 1436.7 727C1437.75 726.13 1439.2 725.27 1439.9 724.4C1440.6 723.53 1440.38 722.68 1440.9 721.8C1441.42 720.92 1441.95 719.98 1443 719.1C1444.05 718.22 1445.27 717.63 1447.2 716.5C1449.13 715.37 1452.32 713.78 1454.6 712.3C1456.88 710.82 1458.8 709.08 1460.9 707.6C1463 706.12 1466.15 704.1 1467.2 703.4Z" fill="#FDB6B6" stroke="#2E2B29" stroke-width="3" stroke-linejoin="round"/>
<path d="M1478.2 703.4V718.6M1478.2 731.5V738.7" stroke="#2E2B29" stroke-width="2.8" fill="none"/>
<rect x="1472.9" y="718.6" width="10.6" height="12.9" fill="#FDB6B6" stroke="#2E2B29" stroke-width="2.5"/>
<path d="M1472.9 724.7H1483.5" stroke="#2E2B29" stroke-width="2.5" fill="none"/>
<path d="M1603.5 707.6C1604.6 708.22 1608.13 709.98 1610.1 711.3C1612.07 712.62 1614.12 714.1 1615.3 715.5C1616.48 716.9 1617.2 718.4 1617.2 719.7C1617.2 721 1616.67 721.73 1615.3 723.3C1613.93 724.87 1611.45 726.9 1609 729.1C1606.55 731.3 1603.27 733.97 1600.6 736.5C1597.93 739.03 1594.27 743 1593 744.3L1566.2 744.3C1564.93 743 1561.27 739.03 1558.6 736.5C1555.93 733.97 1552.65 731.3 1550.2 729.1C1547.75 726.9 1545.27 724.87 1543.9 723.3C1542.53 721.73 1542 721 1542 719.7C1542 718.4 1542.72 716.9 1543.9 715.5C1545.08 714.1 1547.13 712.62 1549.1 711.3C1551.07 709.98 1554.6 708.22 1555.7 707.6Z" fill="#B1C9E3" stroke="#2E2B29" stroke-width="3" stroke-linejoin="round"/>
<path d="M1579.55 707.6V715.7M1579.55 731.5V744.3" stroke="#2E2B29" stroke-width="2.8" fill="none"/>
<rect x="1574.5" y="715.7" width="10.1" height="15.8" fill="#B1C9E3" stroke="#2E2B29" stroke-width="2.5"/>
<path d="M1574.5 722.3H1584.6" stroke="#2E2B29" stroke-width="2.5" fill="none"/>
<text x="990.33" y="482" font-size="21.75" fill="#000" stroke="#000"><tspan font-style="italic">P</tspan><tspan> = 2.9x10</tspan><tspan font-size="12.4" dy="-7.5">-7</tspan></text>
<text x="1258.34" y="683" font-size="21.5" fill="#000" stroke="#000"><tspan font-style="italic">P</tspan><tspan> = 0.28</tspan></text>
<text x="1491.44" y="683" font-size="21.5" fill="#000" stroke="#000"><tspan font-style="italic">P</tspan><tspan> = 0.35</tspan></text>
<rect x="1741.2" y="344" width="257.8" height="426.8" fill="#EAEAEA"/>
<rect x="1741.2" y="377.42" width="257.8" height="2.2" fill="#fff"/>
<rect x="1741.2" y="484.73" width="257.8" height="2.2" fill="#fff"/>
<rect x="1741.2" y="592.04" width="257.8" height="2.2" fill="#fff"/>
<rect x="1741.2" y="699.35" width="257.8" height="2.2" fill="#fff"/>
<rect x="1741.2" y="430.08" width="257.8" height="4.2" fill="#fff"/>
<rect x="1741.2" y="537.39" width="257.8" height="4.2" fill="#fff"/>
<rect x="1741.2" y="644.7" width="257.8" height="4.2" fill="#fff"/>
<rect x="1741.2" y="752.01" width="257.8" height="4.2" fill="#fff"/>
<rect x="1809.6" y="344" width="4.2" height="426.8" fill="#fff"/>
<rect x="1810.1" y="770.8" width="3.2" height="3.2" fill="#333"/>
<rect x="1926.9" y="344" width="4.2" height="426.8" fill="#fff"/>
<rect x="1927.4" y="770.8" width="3.2" height="3.2" fill="#333"/>
<rect x="1788" y="381.3" width="47.2" height="265.5" fill="#514F50"/>
<rect x="1905.2" y="646.8" width="47" height="61" fill="#514F50"/>
<circle cx="1810.4" cy="364.1" r="3.4" fill="#000"/>
<circle cx="1810.4" cy="399.3" r="3.4" fill="#000"/>
<circle cx="1928.5" cy="664.3" r="3.4" fill="#000"/>
<circle cx="1928.5" cy="751.7" r="3.4" fill="#000"/>
<text x="1699.48" y="436.6" font-size="22" fill="#4A4848" stroke="#4A4848">0.6</text>
<rect x="1737.3" y="430.38" width="3.9" height="3.6" fill="#333"/>
<text x="1699.48" y="539.8" font-size="22" fill="#4A4848" stroke="#4A4848">0.3</text>
<rect x="1737.3" y="537.69" width="3.9" height="3.6" fill="#333"/>
<text x="1699.38" y="643.5" font-size="22" fill="#4A4848" stroke="#4A4848">0.0</text>
<rect x="1737.3" y="645" width="3.9" height="3.6" fill="#333"/>
<text x="1686.64" y="746" font-size="22" fill="#4A4848" stroke="#4A4848">−0.3</text>
<rect x="1737.3" y="752.31" width="3.9" height="3.6" fill="#333"/>
<text transform="translate(1679.1 749.9) rotate(-90)" x="-1.83" y="0" font-size="22.28" fill="#000" stroke="#000"><tspan>Log</tspan><tspan font-size="13.81" dy="7.6">10</tspan><tspan dy="-7.6" dx="-1.2"> (iBAQ intensity of Ssk-FB4/Ssk)</tspan></text>
<text x="1671.49" y="330.8" font-size="30" fill="#000" stroke="#000" font-weight="bold">f</text>
<text transform="translate(1838.9 796.3) rotate(-16)" text-anchor="end" font-size="22" fill="#4A4848" stroke="#4A4848">Before Co-IP</text>
<text transform="translate(1948.1 796.3) rotate(-16)" text-anchor="end" font-size="22" fill="#4A4848" stroke="#4A4848">After Co-IP</text>
</svg>
</body></html>
